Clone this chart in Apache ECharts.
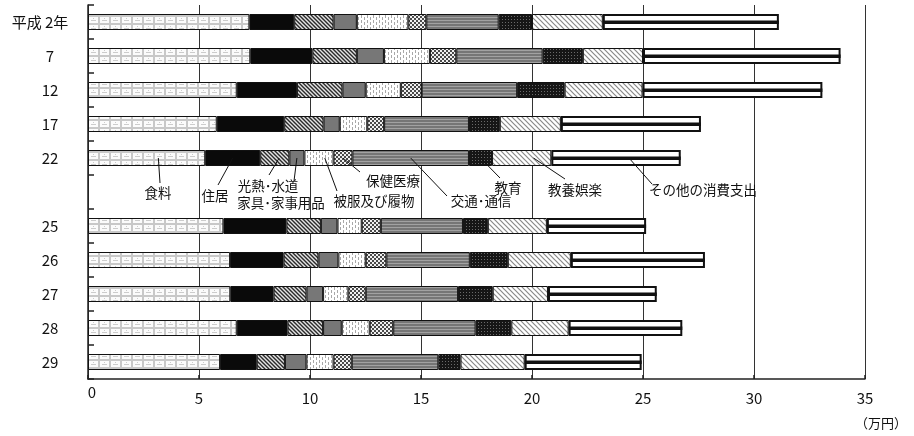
<!DOCTYPE html>
<html>
<head>
<meta charset="utf-8">
<script src="https://cdn.jsdelivr.net/npm/echarts@6/dist/echarts.min.js"></script>
<style>
html,body{margin:0;padding:0;background:#fff;}
#c{width:914px;height:436px;}
</style>
</head>
<body>
<div id="c"></div>
<script>
// ---- data (万円) ----
const years = ['平成 2年', '7', '12', '17', '22', '', '25', '26', '27', '28', '29'];
const food      = [7.27, 7.31, 6.70, 5.80, 5.28, null, 6.10, 6.40, 6.41, 6.70, 5.95];
const housing   = [2.02, 2.80, 2.71, 3.04, 2.48, null, 2.84, 2.41, 1.95, 2.29, 1.65];
const utilities = [1.77, 2.00, 2.05, 1.77, 1.31, null, 1.55, 1.57, 1.48, 1.60, 1.27];
const furniture = [1.05, 1.22, 1.05, 0.73, 0.68, null, 0.75, 0.90, 0.75, 0.84, 0.97];
const clothing  = [2.32, 2.07, 1.58, 1.24, 1.31, null, 1.09, 1.23, 1.14, 1.26, 1.22];
const medical   = [0.81, 1.19, 0.94, 0.76, 0.85, null, 0.86, 0.93, 0.78, 1.06, 0.82];
const transport = [3.26, 3.89, 4.30, 3.82, 5.25, null, 3.70, 3.76, 4.16, 3.71, 3.90];
const education = [1.50, 1.81, 2.14, 1.39, 1.04, null, 1.12, 1.71, 1.56, 1.61, 1.00];
const culture   = [3.19, 2.71, 3.51, 2.75, 2.67, null, 2.66, 2.84, 2.49, 2.58, 2.89];
const other     = [7.93, 8.90, 8.10, 6.31, 5.83, null, 4.47, 6.04, 4.90, 5.12, 5.27];
const itemNames = ['食料', '住居', '光熱･水道', '家具･家事用品', '被服及び履物', '保健医療', '交通･通信', '教育', '教養娯楽', 'その他の消費支出'];
const xTicks = [0, 5, 10, 15, 20, 25, 30, 35];

const seriesData = [food, housing, utilities, furniture, clothing, medical, transport, education, culture, other];

// ---- fill patterns ----
function tile(w, h, draw) {
  const c = document.createElement('canvas');
  c.width = w; c.height = h;
  const g = c.getContext('2d');
  draw(g, w, h);
  return { image: c, repeat: 'repeat' };
}
const pFood = tile(11, 8, (g) => {
  g.fillStyle = '#c8c8c8'; g.fillRect(0, 0, 11, 8);
  g.fillStyle = '#fbfbfb'; g.fillRect(1, 1, 9, 6);
  g.fillStyle = '#cccccc'; g.fillRect(3, 4, 5, 1); g.fillRect(5, 2, 1, 1);
});
const pHousing = '#0a0a0a';
const pUtil = tile(4, 4, (g) => {
  g.fillStyle = '#e4e4e4'; g.fillRect(0, 0, 4, 4);
  g.strokeStyle = '#2a2a2a'; g.lineWidth = 1.4;
  g.beginPath(); g.moveTo(-1, -1); g.lineTo(5, 5); g.moveTo(3, -1); g.lineTo(5, 1); g.moveTo(-1, 3); g.lineTo(1, 5); g.stroke();
});
const pFurn = '#777777';
const pCloth = tile(6, 5, (g) => {
  g.fillStyle = '#ffffff'; g.fillRect(0, 0, 6, 5);
  g.fillStyle = '#a8a8a8'; g.fillRect(1, 0, 1, 3); g.fillRect(4, 2, 1, 3);
});
const pMed = tile(4, 4, (g) => {
  g.fillStyle = '#f0f0f0'; g.fillRect(0, 0, 4, 4);
  g.fillStyle = '#4a4a4a'; g.fillRect(0, 0, 2, 2); g.fillRect(2, 2, 2, 2);
});
const pTrans = tile(1, 3, (g) => {
  g.fillStyle = '#767676'; g.fillRect(0, 0, 1, 3);
  g.fillStyle = '#a2a2a2'; g.fillRect(0, 2, 1, 1);
});
const pEdu = tile(3, 3, (g) => {
  g.fillStyle = '#161616'; g.fillRect(0, 0, 3, 3);
  g.fillStyle = '#6a6a6a'; g.fillRect(1, 1, 1, 1);
});
const pCult = tile(5, 5, (g) => {
  g.fillStyle = '#ffffff'; g.fillRect(0, 0, 5, 5);
  g.strokeStyle = '#8a8a8a'; g.lineWidth = 1.2;
  g.beginPath(); g.moveTo(-1, -1); g.lineTo(6, 6); g.moveTo(4, -1); g.lineTo(6, 1); g.moveTo(-1, 4); g.lineTo(1, 6); g.stroke();
});
const pOther = '#ffffff';
const fills = [pFood, pHousing, pUtil, pFurn, pCloth, pMed, pTrans, pEdu, pCult, pOther];

const FONT = "'Noto Sans CJK JP', 'Noto Sans', sans-serif";

const chart = echarts.init(document.getElementById('c'), null, { renderer: 'canvas' });

const series = seriesData.map((arr, i) => ({
  name: itemNames[i],
  type: 'bar',
  stack: 'total',
  barWidth: 16,
  data: arr,
  itemStyle: {
    color: fills[i],
    borderColor: '#111',
    borderWidth: i === 9 ? 2 : 1
  },
  emphasis: { disabled: true }
}));

// middle stripe of the "その他" bars: [start, end, category index]
const stripeData = years.map((y, idx) => {
  if (other[idx] == null) return null;
  let s = 0;
  for (let k = 0; k < 9; k++) s += seriesData[k][idx];
  return [s, s + other[idx], idx];
}).filter(d => d);

series.push({
  type: 'custom',
  silent: true,
  z: 5,
  data: stripeData,
  encode: { x: [0, 1], y: 2 },
  renderItem: function (params, api) {
    const p0 = api.coord([api.value(0), api.value(2)]);
    const p1 = api.coord([api.value(1), api.value(2)]);
    return {
      type: 'rect',
      shape: { x: p0[0], y: p0[1] - 1.5, width: p1[0] - p0[0], height: 3.5 },
      style: { fill: '#111' }
    };
  }
});

chart.setOption({
  animation: false,
  backgroundColor: '#fff',
  grid: { left: 88, right: 49, top: 5, bottom: 57, containLabel: false },
  xAxis: {
    type: 'value',
    min: 0, max: 35, interval: 5,
    axisLine: { show: true, lineStyle: { color: '#222', width: 1.5 } },
    axisTick: { show: true, inside: true, length: 4, lineStyle: { color: '#222', width: 1.5 } },
    splitLine: { show: true, lineStyle: { color: '#333', width: 1 } },
    axisLabel: {
      color: '#111', fontSize: 15, fontFamily: FONT, margin: 12,
      formatter: (v) => v === 0 ? '{z|0}' : String(v),
      rich: { z: { fontSize: 15, fontFamily: FONT, color: '#111', lineHeight: 2, padding: [0, 0, 0, 8] } }
    }
  },
  yAxis: {
    type: 'category',
    inverse: true,
    data: years,
    axisLine: { show: true, lineStyle: { color: '#222', width: 1.5 } },
    axisTick: { show: true, inside: true, length: 6, lineStyle: { color: '#222', width: 1.5 } },
    splitLine: { show: false },
    axisLabel: {
      color: '#111', fontSize: 15, fontFamily: FONT, align: 'center', margin: 38,
      formatter: (v, i) => i === 0 ? '{a|' + v + '}' : v,
      rich: { a: { fontSize: 15, fontFamily: FONT, color: '#111', padding: [0, 20, 0, 0] } }
    }
  },
  series: series
});

// ---- annotations under the 平成22年 bar ----
const annRow = 4;
// [text centre x, text centre y, leader end x, leader end y, fraction along segment]
const annLayout = [
  [158, 193, 160, 183, 0.6],
  [215, 196, 218, 185, 0.5],
  [268, 186, 269, 175, 0.65],
  [281, 203, 294, 181, 0.5],
  [374, 201, 337, 191, 0.7],
  [393, 181, 360, 172, 0.5],
  [481, 201, 447, 196, 0.5],
  [508, 188, 500, 178, 0.5],
  [575, 190, 565, 179, 0.7],
  [703, 190, 652, 184, 0.6]
];
const graphics = [];
let cum = 0;
seriesData.forEach((arr, k) => {
  const v = arr[annRow];
  const L = annLayout[k];
  const p = chart.convertToPixel({ gridIndex: 0 }, [cum + v * L[4], annRow]);
  cum += v;
  graphics.push({
    type: 'line', silent: true, z: 100,
    shape: { x1: p[0], y1: p[1], x2: L[2], y2: L[3] },
    style: { stroke: '#111', lineWidth: 1 }
  });
  graphics.push({
    type: 'text', silent: true, z: 101,
    x: L[0], y: L[1],
    style: { text: itemNames[k], fill: '#111', font: '13.5px ' + FONT, align: 'center', verticalAlign: 'middle' }
  });
});
graphics.push({
  type: 'text', silent: true,
  x: 881, y: 423,
  style: { text: '（万円）', fill: '#111', font: '13px ' + FONT, align: 'center', verticalAlign: 'middle' }
});
chart.setOption({ graphic: graphics });
</script>
</body>
</html>
